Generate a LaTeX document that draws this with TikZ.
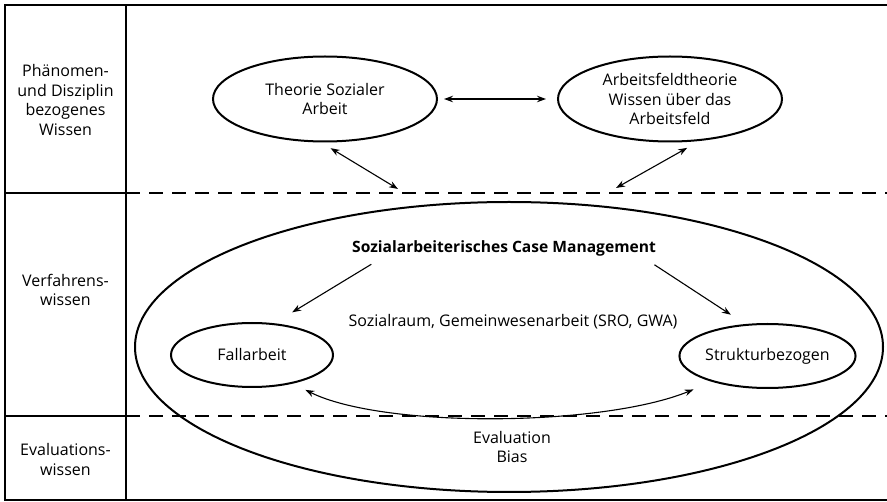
\documentclass[tikz,border=0pt]{standalone}
\usepackage{fontspec}
\setmainfont{Open Sans}
\usetikzlibrary{shapes.geometric,arrows.meta}
\begin{document}
\begin{tikzpicture}[x=1pt,y=-1pt,
  frameline/.style={line width=1.6pt},
  sepline/.style={line width=2pt},
  dashline/.style={line width=1.4pt,dash pattern=on 14pt off 9pt},
  ell/.style={ellipse,draw,line width=2pt,inner sep=0pt,align=center,font=\fontsize{16}{19.5}\selectfont},
  lbl/.style={align=center,inner sep=0pt,font=\fontsize{16}{19.5}\selectfont},
  tip/.tip={Stealth[length=9pt,width=6.5pt]},
  arr/.style={line width=1.1pt,tip-tip},
  arrone/.style={line width=1.1pt,-tip}]
\useasboundingbox (0,0) rectangle (887,502);
% frame
\draw[frameline] (887,5) -- (5,5) -- (5,500) -- (887,500);
\draw[line width=1.4pt] (126,5) -- (126,500);
\draw[sepline] (5,193) -- (126,193);
\draw[sepline] (5,416) -- (126,416);
\draw[dashline] (126,193) -- (887,193);
\draw[dashline] (126,416) -- (887,416);
% left column labels
\node[lbl] (l1) at (65.5,100) {Phänomen-\\und Disziplin\\bezogenes\\Wissen};
\node[lbl] (l2) at (65.5,290) {Verfahrens-\\wissen};
\node[lbl] (l3) at (65.5,459.5) {Evaluations-\\wissen};
% top ellipses
\node[ell,minimum width=224pt,minimum height=85pt] (a) at (325,99) {Theorie Sozialer\\Arbeit};
\node[ell,minimum width=224pt,minimum height=85pt] (b) at (670,99) {Arbeitsfeldtheorie\\Wissen über das\\Arbeitsfeld};
\coordinate (pL) at (398,189);
\coordinate (pR) at (616,188);
\draw[arr,shorten <=6pt,shorten >=11pt] (a.east) -- (b.west);
\draw[arr,shorten <=11pt] (a.265) -- (pL);
\draw[arr,shorten <=14pt] (b.305) -- (pR);
% big ellipse
\node[ell,minimum width=748pt,minimum height=290pt] (E) at (509,347) {};
\node[lbl,font=\fontsize{15.6}{19.5}\selectfont\bfseries] (cm) at (504,248) {Sozialarbeiterisches Case Management};
\node[lbl] (sr) at (513,322) {Sozialraum, Gemeinwesenarbeit (SRO, GWA)};
\node[ell,minimum width=162pt,minimum height=64pt] (f) at (252,355) {Fallarbeit};
\node[ell,minimum width=162pt,minimum height=64pt] (s) at (767.5,356) {Strukturbezogen};
\node[lbl] (ev) at (512,447) {Evaluation\\Bias};
\draw[arrone,shorten <=16pt,shorten >=21pt] ([xshift=33pt]cm.south west) -- (f.55);
\draw[arrone,shorten <=16pt,shorten >=17pt] ([xshift=-15pt]cm.south east) -- (s.125);
\draw[arr,shorten <=14pt,shorten >=20pt] (f.325) .. controls +(90,45) and +(-110,45) .. (s.205);
\end{tikzpicture}
\end{document}
